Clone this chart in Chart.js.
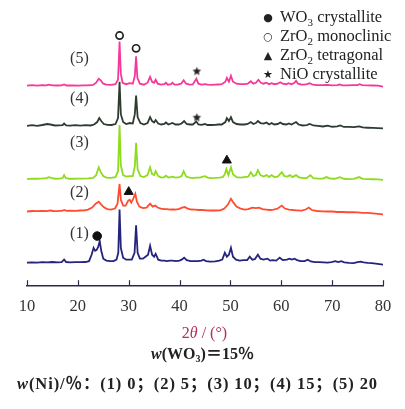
<!DOCTYPE html>
<html>
<head>
<meta charset="utf-8">
<script src="https://cdn.jsdelivr.net/npm/chart.js@4"></script>
<style>
  html, body { margin: 0; padding: 0; background: #fff; }
  #wrap { position: relative; width: 405px; height: 409px; overflow: hidden; background: #fff; }
  #plot { position: absolute; left: 0; top: 0; width: 405px; height: 335px; }
  .legend { position: absolute; left: 260px; top: 7px; font: 16.5px 'Liberation Serif', serif; color: #222; line-height: 19px; white-space: nowrap; }
  .legend .sym { display: inline-block; width: 16px; text-align: center; font: 11px 'DejaVu Sans', sans-serif; margin-right: 4px; vertical-align: 1px; }
  .legend sub { font-size: 11px; vertical-align: -4px; line-height: 0; }
  .note { position: absolute; left: 0; width: 405px; text-align: center; font-family: 'Liberation Serif', 'Noto Sans CJK SC', serif; white-space: nowrap; }
  .note sub { font-size: 10px; vertical-align: -3px; line-height: 0; }
</style>
</head>
<body>
<div id="wrap">
  <div id="plot"><canvas id="xrd"></canvas></div>
  <div class="legend">
    <div><span class="sym">●</span>WO<sub>3</sub> crystallite</div>
    <div><span class="sym">○</span>ZrO<sub>2</sub> monoclinic</div>
    <div><span class="sym">▲</span>ZrO<sub>2</sub> tetragonal</div>
    <div><span class="sym">★</span>NiO crystallite</div>
  </div>
  <div class="note" style="top:324px; font-size:16px; color:#b02f62; left:2px;">2<i>θ</i> / (°)</div>
  <div class="note" style="top:340px; font-size:16px; font-weight:bold; color:#222;"><i>w</i>(WO<sub>3</sub>)＝15％</div>
  <div class="note" style="top:370px; font-size:16.5px; font-weight:bold; color:#222; letter-spacing:0.9px; left:-5px;"><i>w</i>(Ni)/％：(1) 0；(2) 5；(3) 10；(4) 15；(5) 20</div>
</div>
<script>
// Diffraction patterns: [2θ (°), intensity above the pattern's own baseline]
const pattern1 = [[10,0],[11,0.3],[12,0],[13,0.5],[14,0.3],[15,0.6],[16,0.3],[16.8,0.5],[17.3,3],[17.7,0.6],[18.5,0.3],[19.5,0.5],[20.5,0.4],[21.5,0.6],[22.2,1.5],[22.7,8],[23.1,15],[23.4,12],[23.7,13],[24.0,16],[24.3,22],[24.6,12],[25.0,4],[25.6,2],[26.3,1.5],[27,1.5],[27.6,3],[27.95,10],[28.2,54],[28.45,15],[28.9,5],[29.5,3],[30.0,3],[30.6,3],[31.15,10],[31.45,38],[31.75,10],[32.2,4],[32.8,4],[33.3,6],[33.8,8],[34.2,17],[34.6,8],[35.0,6],[35.3,9],[35.8,3],[36.4,2],[37.0,2],[37.5,1.5],[38.1,2],[38.6,2],[39.3,1.5],[40.0,2],[40.4,3],[40.9,5],[41.4,2.5],[42.2,1.5],[43,1.5],[43.6,1.5],[44.3,2],[44.7,3],[45.2,1.5],[46,1],[47,1.2],[47.8,2],[48.4,3],[48.9,10],[49.3,6],[49.7,8],[50.1,15],[50.5,6],[51.1,3],[51.8,2],[52.6,2.5],[53.3,2.5],[53.8,6],[54.3,3],[54.8,3.5],[55.4,8],[55.9,4],[56.5,3],[57.3,4],[57.8,2],[58.3,2.5],[59.0,2],[59.7,5],[60.3,2.5],[61.1,3],[61.6,4],[62.1,3],[62.6,4],[63.1,2.5],[63.8,1.5],[64.6,1.5],[65.2,3],[65.8,1.2],[66.6,0.5],[67.5,0.5],[68.3,0.3],[69.1,0],[69.9,0.5],[70.6,1.5],[71.2,0.5],[71.8,1.5],[72.4,0.3],[73.3,-0.3],[74.2,-0.5],[75.0,0.5],[75.6,1],[76.2,0.3],[77,-0.2],[77.8,-0.5],[78.6,-1],[79.3,-1.5],[80,-2]];

const pattern2 = [[10,0],[11,0.5],[12,0.3],[13,0.6],[14,0.3],[14.5,1],[15.2,0.5],[16,0.4],[17,0.8],[17.3,1.5],[17.8,0.6],[18.5,0.8],[19.5,0.6],[20.5,1],[21.3,1.2],[22,2],[22.8,4],[23.5,8],[24.1,10],[24.6,7],[25.2,4],[25.8,2.5],[26.5,2],[27.3,3],[27.8,8],[28.2,28],[28.45,12],[28.9,6],[29.4,6],[29.9,11],[30.2,12],[30.5,9],[30.9,13],[31.3,18],[31.6,10],[32.1,5],[32.8,3.5],[33.5,4],[34.2,8],[34.7,5],[35.2,6],[35.7,4],[36.3,3],[37.0,2.5],[37.5,2.5],[38.2,2],[39,2],[39.8,2.5],[40.5,4],[41,4.5],[41.6,3],[42.3,2],[43,1.8],[43.8,1.5],[44.5,1.5],[45.3,1.2],[46,1],[47,1],[48,1.2],[48.8,3],[49.5,7],[50.1,13],[50.6,9],[51.2,5],[52,3],[52.8,2],[53.5,2.5],[54.3,4],[55,3.5],[55.6,4],[56.3,2.5],[57,2],[57.8,1.5],[58.5,2],[59.3,3],[60.1,6],[60.7,3],[61.5,2],[62.3,1.5],[63,1.2],[64,0.8],[64.8,2],[65.4,4],[66,1.5],[67,0.5],[68,0.2],[69,0],[70,0],[71,-0.5],[72,-0.5],[73,-0.8],[74,-0.8],[75,-1],[76,-1.5],[77,-1.5],[78,-2],[79,-2.5],[80,-3]];

const pattern3 = [[10,0],[11,0.5],[12,0.3],[13,0.6],[13.8,1],[14.3,2],[14.9,1],[15.6,0.3],[16.4,0.4],[17.0,1],[17.3,4],[17.6,1],[18.3,0.3],[19.2,0.3],[20,0.5],[21,0.5],[22,0.6],[23,1.2],[23.6,4],[24.1,12],[24.5,7],[25,3],[25.6,1.5],[26.5,1.2],[27.4,2],[27.9,8],[28.2,55],[28.45,14],[28.9,4],[29.5,2.5],[30.2,3],[30.8,3],[31.2,13],[31.45,37],[31.75,10],[32.3,3],[33,2],[33.7,4],[34.2,12],[34.6,5],[35.0,4],[35.3,8],[35.8,3],[36.4,1.5],[37.0,2],[37.3,3.5],[37.8,1.5],[38.6,2.5],[39.2,1.5],[40.0,2],[40.4,3],[40.8,8],[41.3,2.5],[42.0,1.5],[42.6,1],[43.2,1.5],[44,1.5],[44.6,2.5],[45.0,3],[45.5,1.5],[46.2,1],[47,1.2],[47.8,1.5],[48.5,2],[48.9,5],[49.2,10],[49.6,4],[50.1,12],[50.5,5],[51.2,2],[52,1.5],[52.7,2],[53.5,2.5],[54.0,7],[54.5,3],[55.0,4],[55.4,9],[55.9,4],[56.5,2.5],[57.1,4],[57.6,2],[58.1,4],[58.6,2],[59.3,2.5],[60.1,7],[60.6,3],[61.2,2.5],[61.7,4],[62.2,2],[62.9,4],[63.4,2],[64.2,1],[65.0,1],[65.7,4],[66.3,1],[67.2,0.5],[68.2,0.5],[68.9,2],[69.6,0.5],[70.5,0.3],[71.5,2],[72.3,0.3],[73.3,0],[74.3,0.2],[75.3,2],[76,0.2],[77,0],[78,-0.2],[79,-0.4],[80,-0.8]];

const pattern4 = [[10,0],[11,0.8],[12,0.2],[13,1],[14,2],[14.6,1.5],[15.5,0.5],[16.3,0.6],[17,0.8],[17.3,2.5],[17.7,0.6],[18.5,0.4],[19.5,0.8],[20.5,0.3],[21.5,0.8],[22.5,0.5],[23.2,1.5],[23.8,4],[24.2,8],[24.6,5],[25.1,2],[25.8,1.2],[26.6,1],[27.4,2],[27.9,8],[28.2,45],[28.45,12],[28.9,4],[29.5,2],[30.2,3],[30.8,2.5],[31.2,12],[31.45,31],[31.75,9],[32.3,3],[33,1.5],[33.7,3],[34.2,9],[34.6,5],[35.0,3.5],[35.3,6],[35.8,2.5],[36.4,1.5],[37.0,2],[37.3,3.5],[37.8,1.5],[38.6,3],[39.2,1.5],[39.8,1.5],[40.4,2.5],[40.9,5],[41.4,2],[42.0,1.5],[42.6,1.5],[43.3,4.5],[43.7,1.5],[44.3,1.2],[45,2],[45.5,1],[46.3,1],[47,1.2],[47.6,1.5],[48.3,1.5],[49.0,4],[49.3,8],[49.7,5],[50.1,9],[50.5,4],[51.2,2],[52,1.5],[52.8,1.5],[53.4,2],[54.0,4],[54.5,2],[55.0,3],[55.4,5],[55.9,3],[56.5,2.5],[57.1,3.5],[57.6,1.5],[58.1,3],[58.6,1.5],[59.3,2],[59.8,3.5],[60.3,2],[61.0,1.5],[61.5,2.5],[62.0,1.5],[62.9,4],[63.4,1.5],[64.2,0.5],[65.0,0.8],[65.6,2],[66.3,0.5],[67.2,0],[68.2,-0.5],[69.1,0.3],[70,-0.8],[71,-0.5],[71.6,0.5],[72.3,-1],[73.3,-1],[74.3,-1.2],[75.3,-0.5],[76,-1.5],[77,-1.8],[78,-2],[79,-2.2],[80,-2.5]];

const pattern5 = [[10,0],[11,0.5],[12,0],[13,0.6],[13.8,0.3],[14.3,1],[15,0.3],[16,0.2],[16.8,0.4],[17.3,1.2],[17.8,0.2],[19,0.3],[20,0],[21,0.4],[22,0.3],[23,0.8],[23.6,3],[24.1,7],[24.5,5.5],[25,2],[25.6,1],[26.5,0.8],[27.4,1.5],[27.9,6],[28.2,45],[28.45,12],[28.8,3],[29.5,1.5],[30.2,2.5],[30.8,2],[31.2,10],[31.45,30],[31.7,8],[32.2,2],[33,1],[33.7,3],[34.2,9],[34.6,4],[35.0,3],[35.3,6],[35.7,2],[36.3,1],[37.0,1.5],[37.3,3],[37.7,1],[38.3,1.5],[38.6,3],[39.0,1],[39.6,1],[40.3,2],[40.8,5.5],[41.3,2],[42.0,1],[42.6,1.2],[43.3,7],[43.7,2],[44.3,1],[45.0,1.5],[45.5,1],[46.3,0.8],[47,1],[47.6,1.2],[48.3,1.5],[49.0,4],[49.3,8],[49.7,4],[50.1,10],[50.5,4],[51.2,2],[52,1.5],[52.8,1.5],[53.4,2],[54.0,4.5],[54.5,2],[55.0,3],[55.5,6],[56.0,3],[56.5,2],[57.1,3],[57.6,1.5],[58.1,2.5],[58.6,1.5],[59.3,2],[59.8,3.5],[60.3,2],[61.0,1.5],[61.4,2.5],[62.0,1.5],[62.6,3],[62.9,5],[63.3,2],[64.0,1],[64.5,1],[65.1,1.5],[65.6,2.5],[66.2,1],[67,0.5],[68,0.5],[69,0.8],[70,0.4],[71,0.6],[71.5,1.2],[72,0.4],[73,0.4],[74,0.5],[75,0.6],[75.4,1.5],[75.9,0.5],[77,0.3],[78,0.2],[79,0.1],[80,-1]];

// Sample names and vertical stacking offsets of each pattern
const sampleLabels = ['(1)', '(2)', '(3)', '(4)', '(5)'];
const stackOffsets = [23, 75, 108, 162, 203];

// Phase markers: [2θ, height above the pattern's baseline, pattern index]
const wo3Marks = [[23.8, 27, 0]];
const monoclinicMarks = [[28.2, 51, 4], [31.45, 38, 4]];
const tetragonalMarks = [[30.0, 20, 1], [49.3, 19, 2]];
const nioMarks = [[43.4, 15, 4], [43.4, 9, 3]];

// x-axis ticks
const tickAngles = [10, 20, 30, 40, 50, 60, 70, 80];

// ---- drawing ----
const lineColors = ['#24237e', '#ff4b2e', '#8edb1f', '#2f3b31', '#f5389a'];
const axisColor = '#2a2a48';

const toXY = (pts, k) => pts.map(p => ({ x: p[0], y: p[1] + stackOffsets[k] }));
const markXY = marks => marks.map(m => ({ x: m[0], y: m[1] + stackOffsets[m[2]] }));

// five-pointed star used as a point style
function makeStar(r) {
  const c = document.createElement('canvas');
  const s = Math.ceil(r * 2 + 2);
  c.width = s; c.height = s;
  const g = c.getContext('2d');
  g.translate(s / 2, s / 2 + 0.5);
  g.beginPath();
  for (let i = 0; i < 10; i++) {
    const rr = i % 2 ? r * 0.45 : r;
    const a = -Math.PI / 2 + i * Math.PI / 5;
    g.lineTo(rr * Math.cos(a), rr * Math.sin(a));
  }
  g.closePath();
  g.fillStyle = '#222';
  g.fill();
  return c;
}
const starImg = makeStar(4.5);

const markerSets = [
  { label: 'WO3', data: markXY(wo3Marks), pointStyle: 'circle', pointRadius: 4.3, pointBackgroundColor: '#111', pointBorderColor: '#111', pointBorderWidth: 1 },
  { label: 'ZrO2 m', data: markXY(monoclinicMarks), pointStyle: 'circle', pointRadius: 3.6, pointBackgroundColor: '#fff', pointBorderColor: '#222', pointBorderWidth: 1.7 },
  { label: 'ZrO2 t', data: markXY(tetragonalMarks), pointStyle: 'triangle', pointRadius: 5.2, pointBackgroundColor: '#111', pointBorderColor: '#111', pointBorderWidth: 1 },
  { label: 'NiO', data: markXY(nioMarks), pointStyle: starImg, pointRadius: 4.5 }
].map(d => Object.assign({ type: 'scatter', showLine: false }, d));

const patterns = [pattern1, pattern2, pattern3, pattern4, pattern5];
const lineSets = patterns.map((p, k) => ({
  type: 'line',
  label: sampleLabels[k],
  data: toXY(p, k),
  borderColor: lineColors[k],
  borderWidth: 1.8,
  pointRadius: 0,
  tension: 0,
  fill: false
}));

const decorations = {
  id: 'decorations',
  afterDatasetsDraw(chart) {
    const { ctx, scales: { x, y } } = chart;
    ctx.save();
    // tick marks pointing up from the axis
    ctx.strokeStyle = axisColor;
    ctx.lineWidth = 1.2;
    tickAngles.forEach(a => {
      const px = Math.round(x.getPixelForValue(a)) + 0.5;
      ctx.beginPath();
      ctx.moveTo(px, y.bottom);
      ctx.lineTo(px, y.bottom - 5);
      ctx.stroke();
    });
    // sample names above each pattern
    const lift = [29, 19, 37, 28, 27];
    ctx.font = "16px 'Liberation Serif', serif";
    ctx.fillStyle = '#333';
    ctx.textAlign = 'center';
    ctx.textBaseline = 'middle';
    sampleLabels.forEach((s, k) => {
      ctx.fillText(s, x.getPixelForValue(20.3), y.getPixelForValue(stackOffsets[k] + lift[k]));
    });
    ctx.restore();
  }
};

new Chart(document.getElementById('xrd'), {
  data: { datasets: [...markerSets, ...lineSets] },
  options: {
    responsive: true,
    maintainAspectRatio: false,
    animation: false,
    layout: { padding: { left: 27, right: 22, top: 10, bottom: 6 } },
    plugins: { legend: { display: false }, tooltip: { enabled: false } },
    scales: {
      x: {
        type: 'linear', min: 10, max: 80,
        afterBuildTicks: s => { s.ticks = tickAngles.map(v => ({ value: v })); },
        ticks: { color: '#333', padding: 12, font: { family: "'Liberation Serif', serif", size: 16.5 } },
        grid: { display: true, drawOnChartArea: false, drawTicks: false },
        border: { display: true, color: axisColor, width: 1.4 }
      },
      y: { display: false, min: 0, max: 280 }
    }
  },
  plugins: [decorations]
});
</script>
</body>
</html>
